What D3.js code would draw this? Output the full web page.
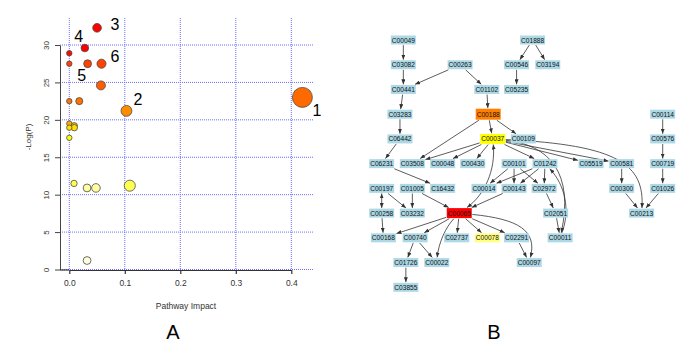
<!DOCTYPE html>
<html>
<head>
<meta charset="utf-8">
<script src="https://cdn.jsdelivr.net/npm/d3@7"></script>
<style>
  body { margin: 0; background: #fff; }
  svg { display: block; font-family: "Liberation Sans", Arial, sans-serif; }
</style>
</head>
<body>
<div id="root"></div>
<script>
// ---- Panel A: pathway impact vs -log(p) ----
const impact = [0.050, 0.028, 0.000, 0.000, 0.033, 0.058, 0.057, 0.000, 0.018, 0.103, 0.420,
                0.000, 0.009, 0.009, 0.000, 0.000, 0.0085, 0.032, 0.048, 0.109, 0.032];
const logP   = [32.3, 29.6, 28.9, 27.5, 27.5, 27.5, 24.6, 22.5, 22.5, 21.2, 23.0,
                19.5, 19.2, 18.95, 18.95, 17.6, 11.5, 10.9, 10.9, 11.2, 1.2];
const markLabels = ["1", "2", "3", "4", "5", "6"];
const markImpact = [0.4463, 0.1238, 0.0824, 0.0169, 0.0223, 0.0824];
const markLogP   = [21.3, 22.7, 32.8, 31.1, 25.9, 28.4];
const xTicks = [0, 0.1, 0.2, 0.3, 0.4];
const yTicks = [0, 5, 10, 15, 20, 25, 30];

// ---- Panel B: compound network ----
const compounds = ["C00049","C03082","C00263","C00441","C01102","C03283","C00188","C06442","C00037","C00109",
                   "C06231","C03508","C00048","C00430","C00101","C01888","C00546","C03194","C05235","C00114",
                   "C00576","C00719","C01242","C05519","C00581","C00197","C01005","C16432","C00014","C00143",
                   "C00258","C03232","C00065","C00168","C00740","C02737","C00078","C02291","C01726","C00022",
                   "C03855","C02972","C00300","C01026","C02051","C00213","C00011","C00097"];
const rank  = [0,1,1,2,2,3,3,4,4,4,
               5,5,5,5,5,0,1,1,2,3,
               4,5,5,5,5,6,6,6,6,6,
               7,7,7,8,8,8,8,8,9,9,
               10,6,6,6,7,7,8,9];
const order = [0.77,0.77,2.79,0.77,3.74,0.65,3.79,0.65,3.95,5.04,
               0.00,1.09,2.17,3.24,4.71,5.37,4.80,5.91,4.80,10.0,
               10.0,10.0,5.81,7.45,8.54,0.00,1.09,2.17,3.64,4.71,
               0.00,1.09,2.76,0.06,1.19,2.67,3.76,4.80,0.86,1.96,
               0.86,5.78,8.54,10.0,6.19,9.25,6.35,5.25];
const hits = ["C00065", "C00188", "C00037", "C00078"];
const links = [
  ["C00049","C03082"],["C03082","C00441"],["C00263","C00441"],["C00263","C01102"],["C00441","C03283"],
  ["C01102","C00188"],["C03283","C06442"],["C06442","C06231"],["C01888","C00546"],["C01888","C03194"],
  ["C00546","C05235"],["C00188","C03508"],["C00188","C00037"],["C00188","C00109"],["C00037","C03508"],
  ["C00037","C00048"],["C00037","C00430"],["C00037","C01242"],["C00037","C05519"],["C00037","C00581"],
  ["C00101","C00014"],["C00101","C00143"],["C00101","C02972"],["C01242","C00014"],["C01242","C00143"],
  ["C01242","C02972"],["C00143","C00065"],["C06231","C16432"],["C00197","C03232"],["C01005","C03232"],
  ["C01005","C00065"],["C00258","C00168"],["C00065","C00168"],["C00065","C00740"],["C00065","C02737"],
  ["C00065","C00078"],["C00065","C02291"],["C00740","C01726"],["C00740","C00022"],["C01726","C03855"],
  ["C02972","C02051"],["C02051","C00011"],["C02291","C00097"],["C00581","C00300"],["C00300","C00213"],
  ["C00114","C00576"],["C00576","C00719"],["C00719","C01026"],["C01026","C00213"]
];
const twoWayLinks = [["C00197","C00258"], ["C00037","C00065"]];
// bowed edges (sideways bend)
const curvedLinks = [["C00037","C00065",-12],["C00065","C00022",5],["C00011","C01242",12]];
// edges that leave sideways and drop onto the target
const sweepLinks = [["C00037","C00213",3],["C00037","C00011",14],["C00065","C00097",8]];

const W = 700, H = 350;
const svg = d3.select("#root").append("svg").attr("width", W).attr("height", H);
svg.append("rect").attr("width", W).attr("height", H).attr("fill", "#fff");

// ================= Panel A =================
const x = d3.scaleLinear().domain([0, 0.4]).range([69.3, 291.3]);
const y = d3.scaleLinear().domain([0, 30]).range([269.5, 45]);
const r = d3.scalePow().exponent(0.7).domain([0, 0.42]).range([2.7, 10]);
const heat = d3.scaleLinear()
  .domain([1, 10.9, 11.2, 17.6, 18.95, 19.3, 21.2, 23, 25, 27.5, 29.2])
  .range(["#ffffe0", "#ffffa0", "#ffff50", "#ffff00", "#ffe000", "#ffb000", "#ff8c00",
          "#ff6a00", "#ff5a00", "#ff4200", "#ff0000"])
  .clamp(true);

const panelA = svg.append("g").attr("class", "panel-a");

// dotted blue grid
const grid = panelA.append("g").attr("stroke", "#6f6fff").attr("stroke-width", 1)
  .attr("stroke-dasharray", "1,1");
grid.selectAll(".vg").data(xTicks).enter().append("line")
  .attr("x1", d => x(d)).attr("x2", d => x(d))
  .attr("y1", 18).attr("y2", 270);
grid.selectAll(".hg").data(yTicks).enter().append("line")
  .attr("x1", 60).attr("x2", 313)
  .attr("y1", d => y(d)).attr("y2", d => y(d));

// y axis
const yAxis = panelA.append("g").attr("transform", "translate(60,0)")
  .call(d3.axisLeft(y).tickValues(yTicks).tickSize(5).tickSizeOuter(0).tickPadding(3));
yAxis.selectAll("path,line").attr("stroke", "#444");
yAxis.selectAll("text")
  .attr("fill", "#333").attr("font-size", 8)
  .attr("transform", "rotate(-90)")
  .attr("x", 0).attr("dy", 0).attr("y", -11)
  .attr("text-anchor", "middle");

// x axis
const xAxis = panelA.append("g").attr("transform", "translate(0,270)")
  .call(d3.axisBottom(x).tickValues(xTicks).tickFormat(d3.format(".1f")).tickSize(4).tickSizeOuter(0).tickPadding(6));
xAxis.selectAll("path,line").attr("stroke", "#333").attr("stroke-width", 1.2);
xAxis.selectAll("text").attr("fill", "#333").attr("font-size", 8.5);
panelA.append("line").attr("x1", 60).attr("x2", x(0)).attr("y1", 270).attr("y2", 270)
  .attr("stroke", "#333").attr("stroke-width", 1.2);

// axis titles
panelA.append("text").attr("x", 186).attr("y", 309).attr("text-anchor", "middle")
  .attr("font-size", 8.5).attr("fill", "#333").text("Pathway Impact");
panelA.append("text").attr("transform", "translate(31,137) rotate(-90)")
  .attr("text-anchor", "middle").attr("font-size", 8).attr("fill", "#333").text("-Log(P)");

// bubbles
panelA.append("g").selectAll("circle")
  .data(impact.map((v, i) => ({impact: v, logP: logP[i]})))
  .enter().append("circle")
  .attr("cx", d => x(d.impact))
  .attr("cy", d => y(d.logP))
  .attr("r", d => r(d.impact))
  .attr("fill", d => heat(d.logP))
  .attr("stroke", "#4a4a4a")
  .attr("stroke-width", 0.8);

// numbered pathways
panelA.append("g").selectAll("text")
  .data(markLabels)
  .enter().append("text")
  .attr("x", (d, i) => x(markImpact[i]))
  .attr("y", (d, i) => y(markLogP[i]))
  .attr("text-anchor", "middle")
  .attr("dominant-baseline", "central")
  .attr("font-size", 16)
  .attr("fill", "#000")
  .text(d => d);

panelA.append("text").attr("x", 173).attr("y", 332).attr("text-anchor", "middle")
  .attr("dominant-baseline", "central").attr("font-size", 20).text("A");

// ================= Panel B =================
const bx = d3.scaleLinear().domain([0, 10]).range([381.7, 662.7]);
const by = d3.scaleLinear().domain([0, 10]).range([40, 287.3]);
const hitColor = d3.scaleOrdinal().domain(hits).range(["#ff0000", "#ff8000", "#ffff00", "#ffff80"]);

const nodes = compounds.map((id, i) => {
  const hit = hits.includes(id);
  return {
    id: id,
    x: bx(order[i]),
    y: by(rank[i]),
    w: 25,
    h: id === "C00188" ? 11 : (id === "C00065" || id === "C00037") ? 10 : 9,
    fill: hit ? hitColor(id) : "#add8e6"
  };
});
const byId = new Map(nodes.map(n => [n.id, n]));

// point on box edge, from node centre toward (px,py)
function clip(n, px, py, pad) {
  const dx = px - n.x, dy = py - n.y;
  const hw = n.w / 2 + pad, hh = n.h / 2 + pad;
  const t = Math.min(dx ? hw / Math.abs(dx) : Infinity, dy ? hh / Math.abs(dy) : Infinity);
  return [n.x + dx * t, n.y + dy * t];
}

const defs = svg.append("defs");
defs.append("marker").attr("id", "arr")
  .attr("viewBox", "0 -2 5 4").attr("refX", 5).attr("refY", 0)
  .attr("markerWidth", 5).attr("markerHeight", 4)
  .attr("markerUnits", "userSpaceOnUse").attr("orient", "auto-start-reverse")
  .append("path").attr("d", "M0,-2L5,0L0,2Z").attr("fill", "#333");

const panelB = svg.append("g").attr("class", "panel-b");
const edges = panelB.append("g").attr("fill", "none").attr("stroke", "#333").attr("stroke-width", 0.8);

function isTwoWay(s, t) {
  return twoWayLinks.some(w => w[0] === s && w[1] === t);
}

function straight(s, t) {
  const a = byId.get(s), b = byId.get(t);
  const p0 = clip(a, b.x, b.y, 0.6), p1 = clip(b, a.x, a.y, 0.6);
  const line = edges.append("line")
    .attr("x1", p0[0]).attr("y1", p0[1]).attr("x2", p1[0]).attr("y2", p1[1])
    .attr("marker-end", "url(#arr)");
  if (isTwoWay(s, t)) line.attr("marker-start", "url(#arr)");
}

function cubic(s, t, c1, c2) {
  const a = byId.get(s), b = byId.get(t);
  const p0 = clip(a, c1[0], c1[1], 0.6), p1 = clip(b, c2[0], c2[1], 0.6);
  const path = d3.path();
  path.moveTo(p0[0], p0[1]);
  path.bezierCurveTo(c1[0], c1[1], c2[0], c2[1], p1[0], p1[1]);
  const el = edges.append("path").attr("d", path.toString()).attr("marker-end", "url(#arr)");
  if (isTwoWay(s, t)) el.attr("marker-start", "url(#arr)");
}

links.forEach(l => straight(l[0], l[1]));
straight(twoWayLinks[0][0], twoWayLinks[0][1]);

curvedLinks.forEach(([s, t, bend]) => {
  const a = byId.get(s), b = byId.get(t);
  const dx = b.x - a.x, dy = b.y - a.y, len = Math.hypot(dx, dy);
  const px = -dy / len * bend * 1.3, py = dx / len * bend * 1.3;
  cubic(s, t, [a.x + dx / 3 + px, a.y + dy / 3 + py], [a.x + dx * 2 / 3 + px, a.y + dy * 2 / 3 + py]);
});

sweepLinks.forEach(([s, t, off]) => {
  const a = byId.get(s), b = byId.get(t);
  const dx = b.x - a.x, dy = b.y - a.y;
  cubic(s, t, [a.x + dx * 0.85, a.y + 6], [b.x + off, b.y - dy * 0.65]);
});

// compound boxes
const nodeG = panelB.append("g").selectAll("g").data(nodes).enter().append("g")
  .attr("transform", d => `translate(${d.x},${d.y})`);
nodeG.append("rect")
  .attr("x", d => -d.w / 2).attr("y", d => -d.h / 2)
  .attr("width", d => d.w).attr("height", d => d.h)
  .attr("fill", d => d.fill);
nodeG.append("text")
  .attr("text-anchor", "middle").attr("dominant-baseline", "central")
  .attr("font-size", 6.6).attr("fill", "#111")
  .text(d => d.id);

panelB.append("text").attr("x", 494).attr("y", 332).attr("text-anchor", "middle")
  .attr("dominant-baseline", "central").attr("font-size", 20).text("B");
</script>
</body>
</html>
